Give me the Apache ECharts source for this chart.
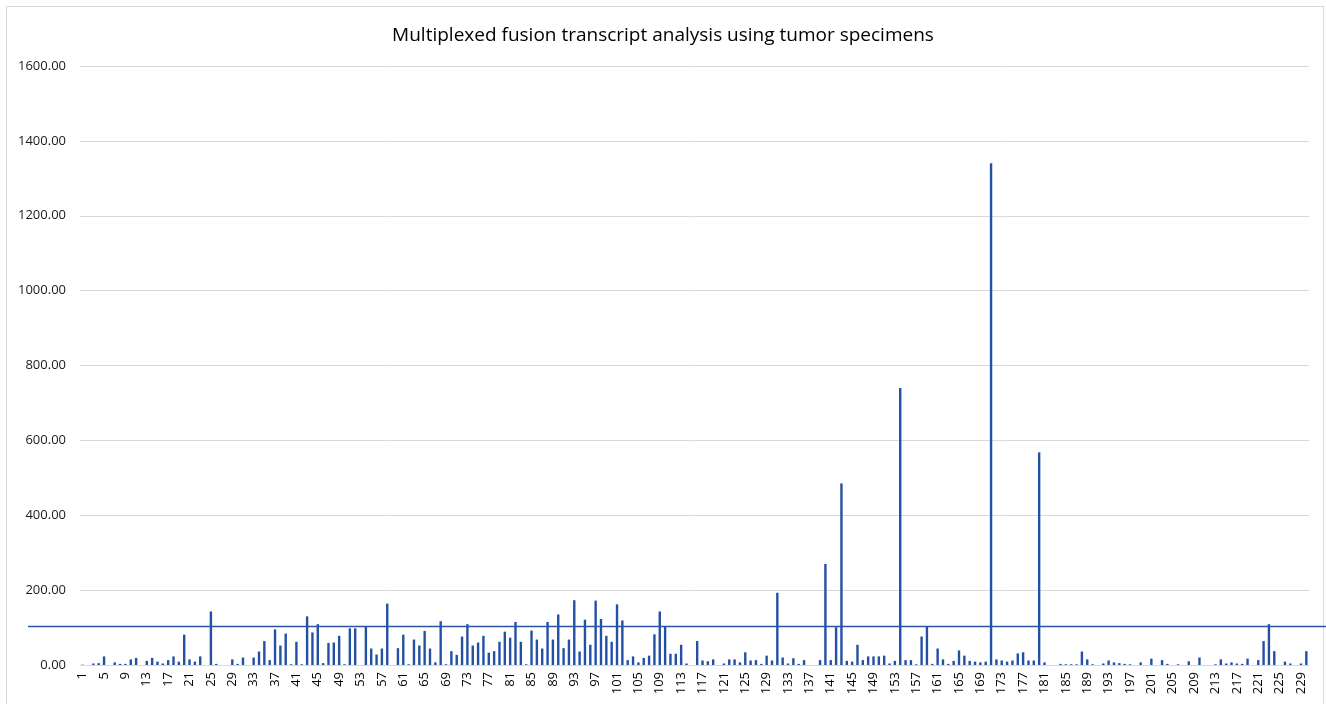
<!DOCTYPE html>
<html>
<head>
<meta charset="utf-8">
<script src="https://cdn.jsdelivr.net/npm/echarts@6/dist/echarts.min.js"></script>
<style>
html,body{margin:0;padding:0;background:#fff;}
#frame{position:absolute;left:6px;top:6px;width:1318px;height:740px;border:1.5px solid #d9d9d9;box-sizing:border-box;}
#chart{position:absolute;left:0;top:0;width:1326px;height:704px;}
</style>
</head>
<body>
<div id="frame"></div>
<div id="chart"></div>
<script>
const titleText = "Multiplexed fusion transcript analysis using tumor specimens";
const categories = [];
for (let i = 1; i <= 230; i++) categories.push(String(i));
const values = [
  1, 0, 4, 5, 23, 0, 7, 3, 3, 15,
  19, 0, 11, 19, 9, 4, 13, 23, 9, 81,
  15, 9, 23, 0, 143, 3, 0, 0, 15, 3,
  20, 0, 20, 36, 64, 13, 95, 52, 84, 2,
  62, 2, 130, 87, 109, 5, 59, 60, 78, 2,
  98, 98, 0, 102, 44, 28, 44, 164, 0, 45,
  81, 2, 68, 52, 91, 44, 7, 117, 2, 37,
  27, 76, 109, 52, 60, 78, 33, 37, 62, 89,
  73, 115, 62, 2, 92, 68, 44, 115, 68, 135,
  45, 68, 173, 36, 121, 54, 172, 123, 78, 62,
  162, 119, 13, 23, 7, 19, 25, 82, 143, 102,
  30, 30, 54, 4, 0, 64, 12, 10, 15, 0,
  4, 15, 15, 7, 34, 12, 13, 3, 25, 12,
  193, 20, 4, 18, 3, 13, 0, 0, 13, 270,
  13, 101, 485, 11, 9, 54, 13, 23, 23, 23,
  25, 4, 11, 740, 13, 13, 2, 76, 102, 3,
  44, 15, 3, 11, 39, 25, 11, 9, 7, 9,
  1340, 15, 12, 9, 12, 31, 34, 12, 12, 568,
  7, 0, 0, 3, 2, 2, 2, 36, 15, 2,
  0, 4, 12, 7, 5, 3, 2, 0, 7, 0,
  17, 0, 13, 3, 0, 2, 0, 10, 0, 20,
  0, 0, 2, 15, 4, 7, 4, 3, 17, 0,
  13, 64, 109, 37, 0, 9, 4, 0, 4, 37
];
const thresholdValue = 103;
const thresholdX = [0, 1];
const yTicks = { min: 0, max: 1600, interval: 200 };

const chart = echarts.init(document.getElementById('chart'), null, { renderer: 'canvas' });
chart.setOption({
  animation: false,
  backgroundColor: 'transparent',
  title: {
    text: titleText,
    left: 'center',
    top: 21,
    textStyle: { fontFamily: 'Open Sans', fontSize: 19, fontWeight: 'normal', color: '#000' }
  },
  grid: [
    { left: 80, right: 17, top: 66, bottom: 39, containLabel: false },
    { left: 28, right: 0, top: 66, bottom: 39, containLabel: false }
  ],
  xAxis: [
    {
      type: 'category', data: categories, gridIndex: 0,
      boundaryGap: true,
      axisLine: { show: true, lineStyle: { color: '#d9d9d9', width: 1 } },
      axisTick: { show: false },
      axisLabel: { interval: 3, rotate: 90, margin: 7, fontFamily: 'Open Sans', fontSize: 13, color: '#000' }
    },
    { type: 'value', gridIndex: 1, min: 0, max: 1, show: false }
  ],
  yAxis: [
    {
      type: 'value', gridIndex: 0, min: yTicks.min, max: yTicks.max, interval: yTicks.interval,
      axisLine: { show: false }, axisTick: { show: false },
      splitLine: { lineStyle: { color: '#d9d9d9', width: 1 } },
      axisLabel: { margin: 14, fontFamily: 'Open Sans', fontSize: 13, color: '#1a1a1a', formatter: v => v.toFixed(2) }
    },
    { type: 'value', gridIndex: 1, min: yTicks.min, max: yTicks.max, show: false }
  ],
  series: [
    {
      type: 'bar', data: values, xAxisIndex: 0, yAxisIndex: 0,
      barWidth: 2.4, itemStyle: { color: '#2450a4' }, z: 2
    },
    {
      type: 'line', xAxisIndex: 1, yAxisIndex: 1,
      data: thresholdX.map(x => [x, thresholdValue]),
      symbol: 'none', lineStyle: { color: '#2a54a8', width: 1.5 }, z: 3
    }
  ]
});
</script>
</body>
</html>
